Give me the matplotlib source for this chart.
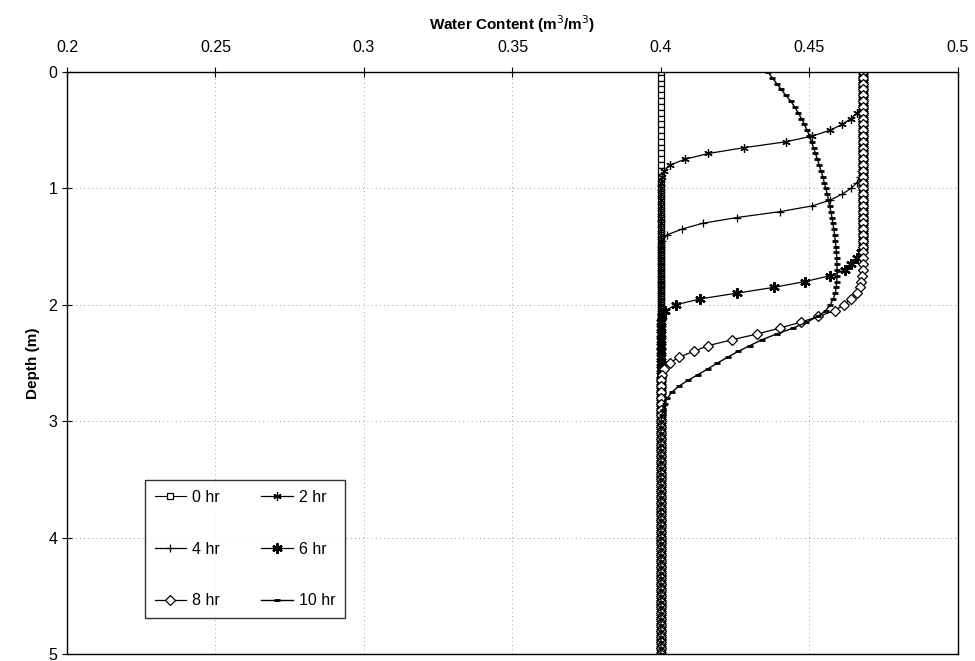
"""Water content profiles vs depth at several times."""

import matplotlib

matplotlib.use("Agg")
import matplotlib.pyplot as plt

plt.rcParams["font.family"] = ["Liberation Sans", "DejaVu Sans"]

# depth grid, 0.05 m steps from 0 to 5 m
depth = [round(i * 0.05, 2) for i in range(101)]

wc_0hr = [0.400] * 101

wc_2hr = (
    [0.468] * 7
    + [0.466, 0.464, 0.461, 0.457, 0.451, 0.442, 0.428, 0.416, 0.408,
       0.403, 0.401, 0.4005]
    + [0.400] * 82
)

wc_4hr = (
    [0.468] * 17
    + [0.4675, 0.467, 0.466, 0.464, 0.461, 0.457, 0.451, 0.440, 0.4256,
       0.414, 0.407, 0.402, 0.4005]
    + [0.400] * 71
)

wc_6hr = (
    [0.468] * 31
    + [0.4675, 0.466, 0.464, 0.462, 0.457, 0.4485, 0.438, 0.4255, 0.413,
       0.405, 0.4015, 0.4005]
    + [0.400] * 58
)

wc_8hr = (
    [0.468] * 35
    + [0.4677, 0.4673, 0.467, 0.466, 0.464, 0.4615, 0.4585, 0.453, 0.447,
       0.440, 0.4325, 0.424, 0.416, 0.411, 0.406, 0.403, 0.401, 0.4005]
    + [0.400] * 48
)

wc_10hr = [
    0.436, 0.4375, 0.439, 0.4405, 0.442, 0.4437, 0.445, 0.4462, 0.4473, 0.4483,
    0.4492, 0.450, 0.4507, 0.4514, 0.452, 0.4527, 0.4533, 0.4539, 0.4545, 0.455,
    0.4555, 0.456, 0.4564, 0.4568, 0.4572, 0.4576, 0.4579, 0.4582, 0.4585, 0.4587,
    0.4589, 0.4591, 0.4592, 0.4593, 0.4593, 0.4593, 0.4592, 0.459, 0.4587, 0.458,
    0.457, 0.4555, 0.4528, 0.449, 0.4445, 0.439, 0.434, 0.430, 0.426, 0.4225,
    0.419, 0.4158, 0.4125, 0.409, 0.406, 0.4037, 0.4022, 0.4012, 0.4006, 0.4003,
] + [0.400] * 41

labels = ["0 hr", "2 hr", "4 hr", "6 hr", "8 hr", "10 hr"]

x_ticks = [0.2, 0.25, 0.3, 0.35, 0.4, 0.45, 0.5]
x_ticklabels = ["0.2", "0.25", "0.3", "0.35", "0.4", "0.45", "0.5"]
y_ticks = [0, 1, 2, 3, 4, 5]

asterisk = (6, 2, 0)

fig = plt.figure(figsize=(9.75, 6.61), dpi=100)
ax = fig.add_axes([0.0687, 0.0105, 0.9138, 0.8806])

h0, = ax.plot(wc_0hr, depth, "k-", lw=0.8, marker="s", ms=4.8,
              mfc="white", mec="black", mew=0.9, label=labels[0])
h2, = ax.plot(wc_2hr, depth, "k-", lw=0.9, marker=asterisk, ms=6,
              mew=0.9, label=labels[1])
h4, = ax.plot(wc_4hr, depth, "k-", lw=0.9, marker="+", ms=6,
              mew=0.9, label=labels[2])
h6, = ax.plot(wc_6hr, depth, "k-", lw=0.9, marker=asterisk, ms=7.5,
              mew=1.6, label=labels[3])
h8, = ax.plot(wc_8hr, depth, "k-", lw=0.9, marker="D", ms=4.8,
              mfc="white", mec="black", mew=0.9, label=labels[4])
h10, = ax.plot(wc_10hr, depth, "k-", lw=1.0, marker="_", ms=5,
               mew=2, label=labels[5])

ax.set_xlim(0.2, 0.5)
ax.set_ylim(5, 0)
ax.set_xticks(x_ticks)
ax.set_xticklabels(x_ticklabels)
ax.set_yticks(y_ticks)

ax.xaxis.tick_top()
ax.xaxis.set_label_position("top")
ax.tick_params(axis="both", direction="inout", length=7, width=0.8,
               labelsize=11.5, colors="black")
ax.tick_params(axis="x", pad=9)

ax.set_xlabel("Water Content (m$^3$/m$^3$)", fontsize=11,
              fontweight="bold", labelpad=7)
ax.set_ylabel("Depth (m)", fontsize=11, fontweight="bold", labelpad=6)

ax.grid(True, color="gray", linestyle=(0, (1, 4)), linewidth=0.6)
for sp in ax.spines.values():
    sp.set_linewidth(1.0)
    sp.set_color("black")

# legend rows: 0/2, 4/6, 8/10 (matplotlib fills columns first)
leg = ax.legend(
    [h0, h4, h8, h2, h6, h10],
    [labels[0], labels[2], labels[4], labels[1], labels[3], labels[5]],
    ncol=2,
    loc="lower left",
    bbox_to_anchor=(0.0875, 0.062),
    fontsize=11.5,
    frameon=True,
    fancybox=False,
    edgecolor="black",
    labelspacing=2.3,
    columnspacing=2.6,
    handlelength=2.0,
    handletextpad=0.35,
    borderpad=0.6,
    borderaxespad=0,
)
leg.get_frame().set_linewidth(1.0)

fig.savefig("out.png", dpi=100)
plt.close(fig)
